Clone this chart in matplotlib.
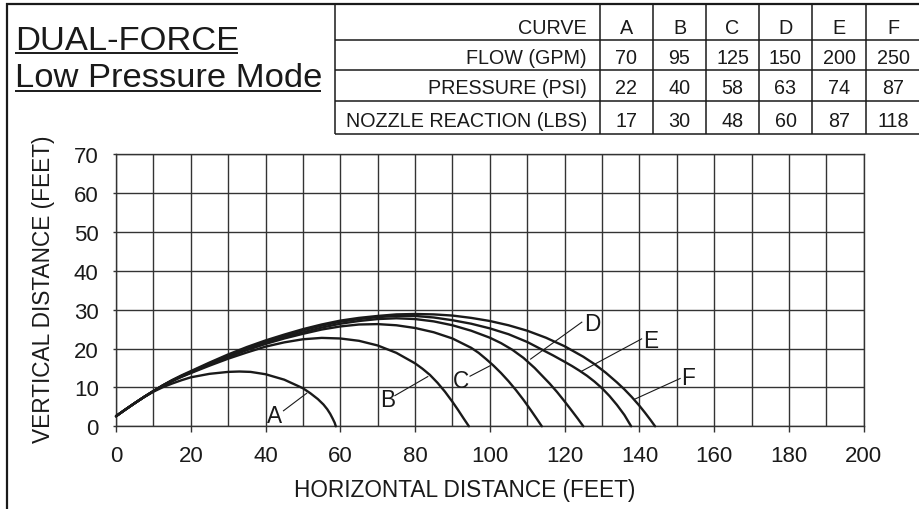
import matplotlib
matplotlib.use('Agg')
import matplotlib.pyplot as plt
from matplotlib.lines import Line2D

plt.rcParams['font.family'] = ['Liberation Sans', 'DejaVu Sans']

# ---------------- data ----------------
title_lines = ['DUAL-FORCE', 'Low Pressure Mode']
table_row_labels = ['CURVE', 'FLOW (GPM)', 'PRESSURE (PSI)', 'NOZZLE REACTION (LBS)']
curve_names = ['A', 'B', 'C', 'D', 'E', 'F']
flow_gpm = [70, 95, 125, 150, 200, 250]
pressure_psi = [22, 40, 58, 63, 74, 87]
nozzle_reaction_lbs = [17, 30, 48, 60, 87, 118]

x_ticks = [0, 20, 40, 60, 80, 100, 120, 140, 160, 180, 200]
y_ticks = [0, 10, 20, 30, 40, 50, 60, 70]
x_label = 'HORIZONTAL DISTANCE (FEET)'
y_label = 'VERTICAL DISTANCE (FEET)'

curve_a_x = [0, 2.5, 5, 7.5, 10, 12.5, 15, 17.5, 20, 25, 30, 33, 36, 40, 45, 50, 52, 54, 55.5, 56.5,
             57.3, 58, 58.5, 58.8]
curve_a_y = [2.6, 4.3, 5.95, 7.5, 8.9, 10.05, 11.0, 11.85, 12.6, 13.5, 14.0, 14.1, 14.0, 13.4, 12.0,
             9.8, 8.5, 7.0, 5.6, 4.4, 3.2, 1.9, 0.9, 0]

curve_b_x = [0, 2.5, 5, 7.5, 10, 12.5, 15, 17.5, 20, 25, 30, 35, 40, 45, 50, 55, 60, 65, 70, 75, 80,
             82, 84, 86, 88, 90, 91.5, 93, 94.4]
curve_b_y = [2.6, 4.3, 5.95, 7.55, 9.05, 10.4, 11.6, 12.7, 13.7, 15.6, 17.4, 19.0, 20.5, 21.6, 22.4,
             22.75, 22.6, 22.0, 20.8, 18.9, 16.2, 14.8, 13.2, 11.2, 8.9, 6.3, 4.2, 2.0, 0]

curve_c_x = [0, 2.5, 5, 7.5, 10, 12.5, 15, 17.5, 20, 25, 30, 35, 40, 45, 50, 55, 60, 65, 70, 75, 80,
             85, 90, 95, 97, 99, 101, 103, 105, 107, 109, 111, 112.5, 113.9]
curve_c_y = [2.6, 4.3, 5.95, 7.55, 9.05, 10.45, 11.7, 12.8, 13.8, 15.9, 17.8, 19.6, 21.2, 22.6, 23.8,
             24.9, 25.7, 26.2, 26.3, 26.0, 25.3, 24.2, 22.6, 20.2, 18.9, 17.3, 15.6, 13.7, 11.6, 9.3,
             6.8, 4.1, 2.0, 0]

curve_d_x = [0, 2.5, 5, 7.5, 10, 12.5, 15, 17.5, 20, 25, 30, 35, 40, 45, 50, 55, 60, 65, 70, 75, 80,
             85, 90, 95, 100, 103, 106, 109, 112, 114, 116, 118, 120, 122, 123.5, 125]
curve_d_y = [2.6, 4.3, 5.95, 7.55, 9.05, 10.5, 11.75, 12.9, 13.9, 16.0, 18.0, 19.8, 21.4, 22.9, 24.2,
             25.4, 26.4, 27.1, 27.6, 27.8, 27.6, 27.0, 26.0, 24.6, 22.8, 21.4, 19.7, 17.6, 15.0, 13.0,
             11.0, 8.8, 6.4, 3.9, 2.0, 0]

curve_e_x = [0, 2.5, 5, 7.5, 10, 12.5, 15, 17.5, 20, 25, 30, 35, 40, 45, 50, 55, 60, 65, 70, 75, 80,
             85, 90, 95, 100, 105, 110, 114, 117, 120, 122, 124, 126, 128, 130, 132, 134, 136, 137.8]
curve_e_y = [2.6, 4.3, 5.95, 7.55, 9.05, 10.5, 11.8, 12.95, 14.0, 16.2, 18.2, 20.1, 21.8, 23.3, 24.7,
             25.9, 26.9, 27.6, 28.1, 28.4, 28.4, 28.0, 27.3, 26.4, 25.2, 23.7, 21.7, 19.7, 18.2, 16.6,
             15.5, 14.3, 13.0, 11.5, 9.8, 7.8, 5.5, 2.9, 0]

curve_f_x = [0, 2.5, 5, 7.5, 10, 12.5, 15, 17.5, 20, 25, 30, 35, 40, 45, 50, 55, 60, 65, 70, 75, 80,
             85, 90, 95, 100, 105, 110, 115, 120, 125, 128, 131, 134, 136, 138, 140, 141.5, 143, 144.2]
curve_f_y = [2.6, 4.3, 5.95, 7.55, 9.05, 10.55, 11.9, 13.1, 14.2, 16.4, 18.5, 20.4, 22.1, 23.6, 25.0,
             26.2, 27.2, 27.9, 28.4, 28.8, 28.9, 28.8, 28.5, 27.9, 27.1, 26.0, 24.6, 22.8, 20.6, 17.9,
             16.0, 13.8, 11.3, 9.5, 7.5, 5.3, 3.5, 1.6, 0]

curves_x = [curve_a_x, curve_b_x, curve_c_x, curve_d_x, curve_e_x, curve_f_x]
curves_y = [curve_a_y, curve_b_y, curve_c_y, curve_d_y, curve_e_y, curve_f_y]

# label placement (text position, leader start, leader end) in data units
label_pos = {
    'A': ((42.5, 1.1), (44.8, 4.0), (51.0, 8.5)),
    'B': ((72.7, 5.2), (74.6, 7.9), (83.4, 12.8)),
    'C': ((92.3, 10.1), (94.7, 12.9), (100.1, 15.6)),
    'D': ((127.4, 24.9), (124.6, 26.8), (110.9, 17.3)),
    'E': ((142.9, 20.3), (140.6, 22.5), (124.4, 14.1)),
    'F': ((152.9, 10.9), (150.9, 12.3), (138.8, 7.0)),
}

# ---------------- figure ----------------
W, H = 919, 510
fig = plt.figure(figsize=(W / 100, H / 100), dpi=100)
fig.patch.set_facecolor('white')
INK = '#1a1a1a'


def fx(px):
    return px / W


def fy(py):
    return 1 - py / H


def fline(x0, y0, x1, y1, lw=1.1, color=INK):
    fig.add_artist(Line2D([fx(x0), fx(x1)], [fy(y0), fy(y1)], transform=fig.transFigure,
                          color=color, lw=lw, solid_capstyle='butt'))


# outer frame (top and left)
fline(6, 5, W, 5, lw=1.6)
fline(7, 4, 7, H, lw=1.6)

# table
tab_left = 335
row_edges = [5, 41, 71, 102, 135]
col_edges = [600, 653, 706, 759, 812, 866, W]
fline(tab_left, row_edges[0], tab_left, row_edges[-1])
for ry in row_edges[1:]:
    fline(tab_left, ry, W, ry)
for cx in col_edges[:-1]:
    fline(cx, row_edges[0], cx, row_edges[-1])

rows = [curve_names, flow_gpm, pressure_psi, nozzle_reaction_lbs]
baselines = [34, 64, 94, 127]
tfs = 14.2
for r, (lab, vals) in enumerate(zip(table_row_labels, rows)):
    fig.text(fx(587), fy(baselines[r]), lab, ha='right', va='baseline', fontsize=tfs, color=INK)
    for c, v in enumerate(vals):
        cxm = (col_edges[c] + col_edges[c + 1]) / 2
        if c == len(vals) - 1:
            cxm = 893
        fig.text(fx(cxm), fy(baselines[r]), str(v), ha='center', va='baseline', fontsize=tfs, color=INK)

# title with underline
t1 = fig.text(fx(15), fy(50), title_lines[0], fontsize=24.8, va='baseline', color=INK)
t2 = fig.text(fx(15), fy(87), title_lines[1], fontsize=24.8, va='baseline', color=INK)
fig.canvas.draw()
r = fig.canvas.get_renderer()
for t, uy in ((t1, 53.5), (t2, 92)):
    bb = t.get_window_extent(renderer=r)
    fline(15, uy, bb.x1 - 1, uy, lw=1.4)

# ---------------- axes ----------------
ax = fig.add_axes([fx(116), fy(427.3), (863.7 - 116) / W, (427.3 - 155.3) / H])
ax.set_xlim(0, 200)
ax.set_ylim(0, 70)
ax.set_xticks(x_ticks)
ax.set_xticks(list(range(0, 201, 10)), minor=True)
ax.set_yticks(y_ticks)
ax.grid(which='both', axis='x', color='#333333', lw=1.0)
ax.grid(which='major', axis='y', color='#333333', lw=1.0)
ax.set_axisbelow(True)
for s in ax.spines.values():
    s.set_color('#333333')
    s.set_linewidth(1.0)
ax.tick_params(axis='x', which='major', length=4, width=1.0, color='#333333', pad=9.5,
               labelsize=16, labelcolor=INK)
ax.tick_params(axis='x', which='minor', length=0)
ax.tick_params(axis='y', which='major', length=2, width=1.0, color='#333333', pad=10.5,
               labelsize=16, labelcolor=INK)

for xs, ys in zip(curves_x, curves_y):
    ax.plot(xs, ys, color=INK, lw=1.7, solid_joinstyle='round', solid_capstyle='round',
            clip_on=False, zorder=3)

for name in curve_names:
    (tx, ty), (lx0, ly0), (lx1, ly1) = label_pos[name]
    ax.text(tx, ty, name, ha='center', va='baseline', fontsize=16.3, color=INK, zorder=4)
    ax.plot([lx0, lx1], [ly0, ly1], color=INK, lw=0.8, zorder=3)

fig.text(fx(465), fy(497), x_label, ha='center', va='baseline', fontsize=16.3, color=INK)
fig.text(fx(44), fy(289), y_label, ha='center', va='center', rotation=90, fontsize=16.3, color=INK)

fig.savefig('out.png', dpi=100, facecolor='white')
